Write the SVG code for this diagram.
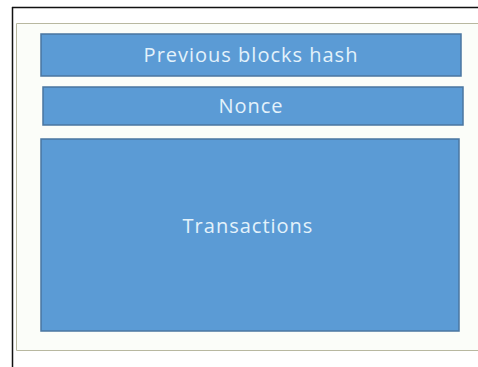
<svg xmlns="http://www.w3.org/2000/svg" width="478" height="367" viewBox="0 0 478 367">
<style>
.box{fill:#5b9bd5;stroke:#4a76a0;stroke-width:1.5}
.lbl{font-family:"Open Sans","Noto Sans",sans-serif;font-size:20px;letter-spacing:1px;fill:#e3f2fb;text-anchor:middle}
.edge{stroke:#b8b8a0;stroke-width:1;fill:none}
</style>
<rect x="0" y="0" width="478" height="367" fill="#ffffff"/>
<g id="frame">
<rect x="16.5" y="23.5" width="462" height="327" fill="#fbfdf9"/>
<path class="edge" d="M478 23.5 H16.5 V350.5 H478"/>
<line x1="12" y1="7.5" x2="478" y2="7.5" stroke="#111" stroke-width="1.5"/>
<line x1="12.5" y1="7" x2="12.5" y2="367" stroke="#111" stroke-width="1.5"/>
</g>
<g id="prev-hash">
<rect class="box" x="41" y="34" width="420" height="42"/>
<text class="lbl" x="251" y="62">Previous blocks hash</text>
</g>
<g id="nonce">
<rect class="box" x="43" y="87" width="420" height="38"/>
<text class="lbl" x="251" y="113">Nonce</text>
</g>
<g id="transactions">
<rect class="box" x="41" y="139" width="418" height="192"/>
<text class="lbl" x="248" y="233">Transactions</text>
</g>
<g id="connectors"></g>
</svg>
